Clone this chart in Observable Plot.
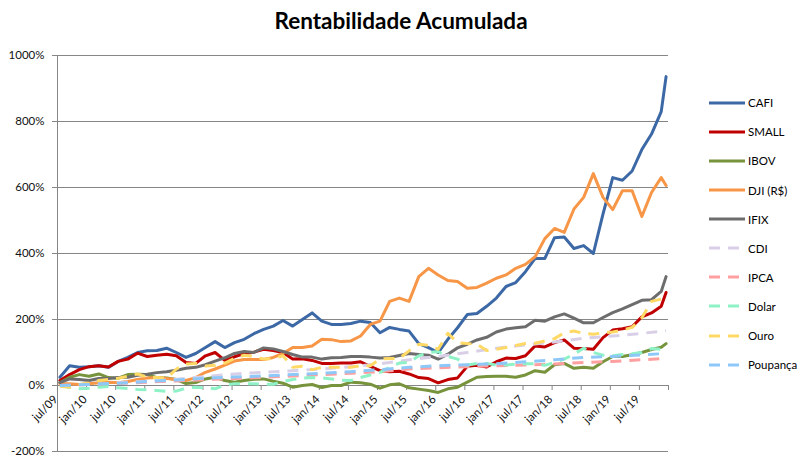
<!DOCTYPE html>
<html><head><meta charset="utf-8">
<script src="https://cdn.jsdelivr.net/npm/d3@7"></script>
<script src="https://cdn.jsdelivr.net/npm/@observablehq/plot@0.6"></script>
<style>
body{margin:0;background:#fff;}
#wrap{position:relative;width:802px;height:462px;font-family:Lato,"Liberation Sans",sans-serif;color:#000;}
#title{position:absolute;left:0;top:7px;width:802px;text-align:center;font-weight:bold;font-size:22.5px;}
#chart{position:absolute;left:0;top:0;}
.lg{position:absolute;left:709px;height:16px;font-size:11.5px;display:flex;align-items:center;white-space:nowrap;}
.lg svg{margin-right:3px;}
</style></head><body>
<div id="wrap"><div id="chart"></div><div id="title">Rentabilidade Acumulada</div><div id="legend"></div></div>
<script>
const seriesNames = ["CAFI","SMALL","IBOV","DJI (R$)","IFIX","CDI","IPCA","Dolar","Ouro","Poupança"];
const seriesColors = ["#3c69a6","#c00000","#77933c","#f79646","#6d6d6d","#d9d0e8","#ff9f9f","#8ef2c6","#ffd966","#8dc8f8"];
const seriesDashed = [false,false,false,false,false,true,true,true,true,true];

// month index 0 = jul/09 ... 125 = dez/19
const monthsBi = d3.range(0, 125, 2).concat([125]);
const monthsSemi = d3.range(0, 121, 6).concat([125]);

const tickLabels = ["jul/09","jan/10","jul/10","jan/11","jul/11","jan/12","jul/12","jan/13","jul/13","jan/14","jul/14","jan/15","jul/15","jan/16","jul/16","jan/17","jul/17","jan/18","jul/18","jan/19","jul/19"];
const yTicks = [-200,0,200,400,600,800,1000];

const cafi = [25,60,55,57,60,55,73,85,100,105,
  106,113,100,85,97,115,133,115,130,140,
  157,170,180,197,180,200,220,195,185,185,
  188,195,191,160,176,170,165,127,115,100,
  140,175,215,218,240,265,300,312,345,385,
  385,448,450,415,424,400,520,630,622,650,
  715,762,830,936];
const small = [15,33,48,57,60,56,73,80,98,88,
  92,95,90,70,67,90,100,76,87,97,
  101,110,106,100,80,81,76,67,67,68,
  68,72,58,45,42,43,35,24,21,8,
  18,23,58,61,56,72,83,82,90,120,
  117,130,138,113,112,110,145,168,172,178,
  208,220,240,282];
const ibov = [9,25,33,28,35,24,22,33,34,33,
  24,23,18,6,9,20,25,15,10,15,
  19,20,13,7,-5,0,3,-6,0,0,
  10,8,4,-8,2,5,-7,-11,-15,-21,
  -10,-5,10,25,27,28,28,25,32,45,
  40,63,67,52,55,52,72,88,88,93,
  100,109,116,127];
const dji = [5,5,3,5,8,10,8,12,18,23,
  24,21,18,15,24,40,50,62,74,79,
  79,79,85,97,115,115,120,140,139,133,
  135,150,185,195,255,265,255,330,355,335,
  318,315,295,297,310,325,335,355,367,390,
  445,476,464,535,570,642,570,533,590,590,
  512,585,630,606];
const ifix = [9,20,18,15,21,21,24,25,31,34,
  39,42,46,52,55,63,74,84,97,103,
  100,114,111,103,94,86,86,80,84,85,
  88,88,86,83,85,91,97,94,92,80,
  95,114,125,138,146,162,171,175,178,198,
  195,208,217,204,190,190,206,221,232,245,
  258,260,285,330];
const dolar = [0,-6,-10,-8,-5,-3,-7,-9,-12,-13,
  -15,-18,-17,-8,-5,-7,-10,2,5,6,
  5,4,4,12,18,22,24,23,20,16,
  15,24,32,40,55,68,70,90,100,103,
  88,80,62,67,67,62,62,65,66,66,
  61,70,80,95,113,100,92,90,94,96,
  100,112,110,100];
const ouro = [-2,-5,2,8,15,18,22,28,35,25,
  24,22,50,65,67,59,61,68,82,92,
  88,80,82,90,55,58,48,55,55,55,
  55,60,60,80,82,82,105,125,122,110,
  158,130,127,125,106,110,115,121,127,128,
  135,142,160,165,158,155,160,162,168,176,
  205,255,262,252];
const cdi = [0,3,8,13,19,27,35,40,45,50,57,66,78,88,100,113,123,132,143,150,158,166];
const ipca = [0,3,6,10,14,18,21,25,29,33,37,42,50,54,57,60,62,65,70,73,78,82];
const poupanca = [0,3,7,12,17,22,26,29,33,37,42,48,55,60,63,66,72,78,85,88,93,97];

const seriesValues = [cafi, small, ibov, dji, ifix, cdi, ipca, dolar, ouro, poupanca];
const seriesMonths = [monthsBi, monthsBi, monthsBi, monthsBi, monthsBi, monthsSemi, monthsSemi, monthsBi, monthsBi, monthsSemi];

const grid = "#868686";
const tickBounds = d3.range(0, 22).map(k => k * 6 - 0.5);
const labelPos = tickLabels.map((d, k) => ({label: d, m: k * 6}));

const lineMarks = seriesNames.map((name, s) => {
  const rows = seriesMonths[s].map((m, k) => ({m, v: seriesValues[s][k]}));
  return Plot.line(rows, {
    x: "m", y: "v", stroke: seriesColors[s], strokeWidth: 3,
    strokeDasharray: seriesDashed[s] ? "11,8" : null,
    strokeLinecap: seriesDashed[s] ? "butt" : "round",
    strokeLinejoin: "round"
  });
});

const chart = Plot.plot({
  width: 802, height: 462,
  marginLeft: 57, marginRight: 134, marginTop: 55, marginBottom: 11,
  x: {domain: [-0.5, 125.5], axis: null},
  y: {domain: [-200, 1000], axis: null},
  style: {fontFamily: 'Lato,"Liberation Sans",sans-serif', fontSize: "11.5px", background: "white", color: "#000", overflow: "visible"},
  marks: [
    Plot.ruleY(yTicks, {stroke: grid, strokeWidth: 1}),
    Plot.ruleY(yTicks, {x1: -0.5, x2: -0.5, insetLeft: -5, stroke: grid}),
    Plot.ruleX([-0.5], {stroke: grid}),
    Plot.ruleX(tickBounds, {y1: 0, y2: 0, insetBottom: -5, stroke: grid}),
    Plot.text(yTicks, {x: () => -0.5, y: d => d, text: d => d + "%", textAnchor: "end", dx: -13, fill: "#111"}),
    Plot.text(labelPos, {x: "m", y: () => 0, text: "label", rotate: -45, textAnchor: "end", dx: -4, dy: 12, fill: "#111"}),
    ...lineMarks
  ]
});
document.getElementById("chart").appendChild(chart);

const legend = document.getElementById("legend");
seriesNames.forEach((name, s) => {
  const div = document.createElement("div");
  div.className = "lg";
  div.style.top = (94.7 + 29.1 * s) + "px";
  const dash = seriesDashed[s] ? 'stroke-dasharray="11,8"' : "";
  div.innerHTML = `<svg width="36" height="6"><line x1="0" y1="3" x2="36" y2="3" stroke="${seriesColors[s]}" stroke-width="3" ${dash}/></svg><span>${name}</span>`;
  legend.appendChild(div);
});
</script>
</body></html>
